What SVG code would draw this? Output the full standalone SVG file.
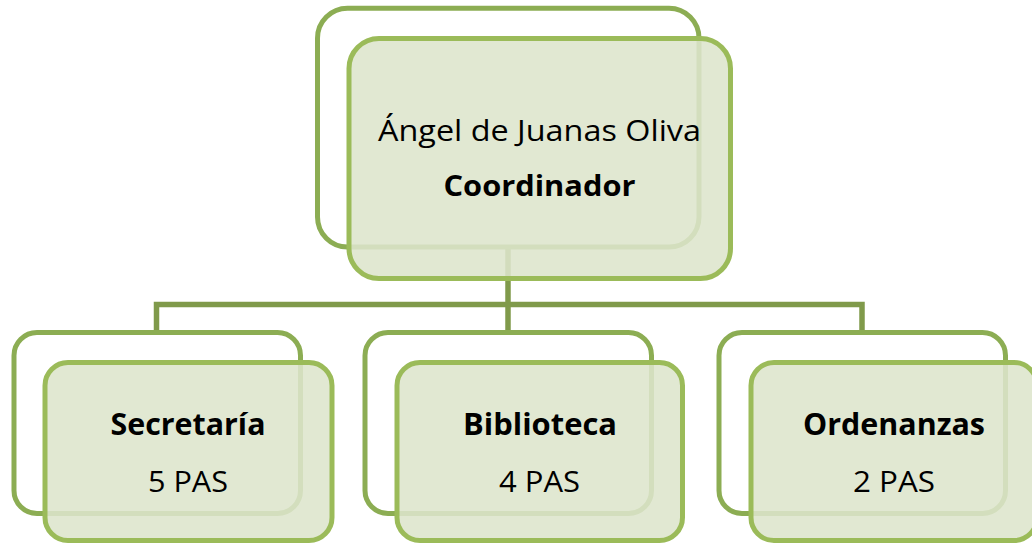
<svg xmlns="http://www.w3.org/2000/svg" width="1032" height="545" viewBox="0 0 1032 545">
<style>
.back{fill:#ffffff;stroke:#8cad53;stroke-width:5}
.front{fill:#dde5cc;fill-opacity:0.88;stroke:#9bbb59;stroke-width:5}
.conn{fill:none;stroke:#809a4b;stroke-width:5.5}
text{font-family:"Open Sans","Liberation Sans",sans-serif;fill:#000000;text-anchor:middle}
.b{font-weight:bold}
</style>
<rect width="1032" height="545" fill="#ffffff"/>
<g id="connectors">
<path class="conn" d="M508 247 V332.5"/>
<path class="conn" d="M156.5 332.5 V304.5 H862 V332.5"/>
</g>
<g id="node-coordinador">
<rect class="back" x="317.5" y="8.3" width="381.5" height="238.7" rx="30"/>
<rect class="front" x="349" y="38.5" width="381.5" height="240" rx="30"/>
<text x="539.5" y="141" font-size="30" textLength="323" lengthAdjust="spacingAndGlyphs">Ángel de Juanas Oliva</text>
<text class="b" x="539.5" y="196" font-size="29" textLength="192" lengthAdjust="spacingAndGlyphs">Coordinador</text>
</g>
<g id="node-secretaria">
<rect class="back" x="14" y="332.5" width="286.5" height="181" rx="23"/>
<rect class="front" x="45" y="362.5" width="287" height="178" rx="23"/>
<text class="b" x="188" y="435" font-size="31" textLength="155" lengthAdjust="spacingAndGlyphs">Secretaría</text>
<text x="188" y="491.5" font-size="30" textLength="80" lengthAdjust="spacingAndGlyphs">5 PAS</text>
</g>
<g id="node-biblioteca">
<rect class="back" x="365" y="332.5" width="286.5" height="181" rx="23"/>
<rect class="front" x="397" y="362.5" width="285.5" height="178" rx="23"/>
<text class="b" x="540" y="435" font-size="31" textLength="154" lengthAdjust="spacingAndGlyphs">Biblioteca</text>
<text x="539.5" y="491.5" font-size="30" textLength="81" lengthAdjust="spacingAndGlyphs">4 PAS</text>
</g>
<g id="node-ordenanzas">
<rect class="back" x="719" y="332.5" width="286.5" height="181" rx="23"/>
<rect class="front" x="751" y="362.5" width="286" height="178" rx="23"/>
<text class="b" x="894" y="435" font-size="31" textLength="182" lengthAdjust="spacingAndGlyphs">Ordenanzas</text>
<text x="894" y="491.5" font-size="30" textLength="82" lengthAdjust="spacingAndGlyphs">2 PAS</text>
</g>
</svg>
